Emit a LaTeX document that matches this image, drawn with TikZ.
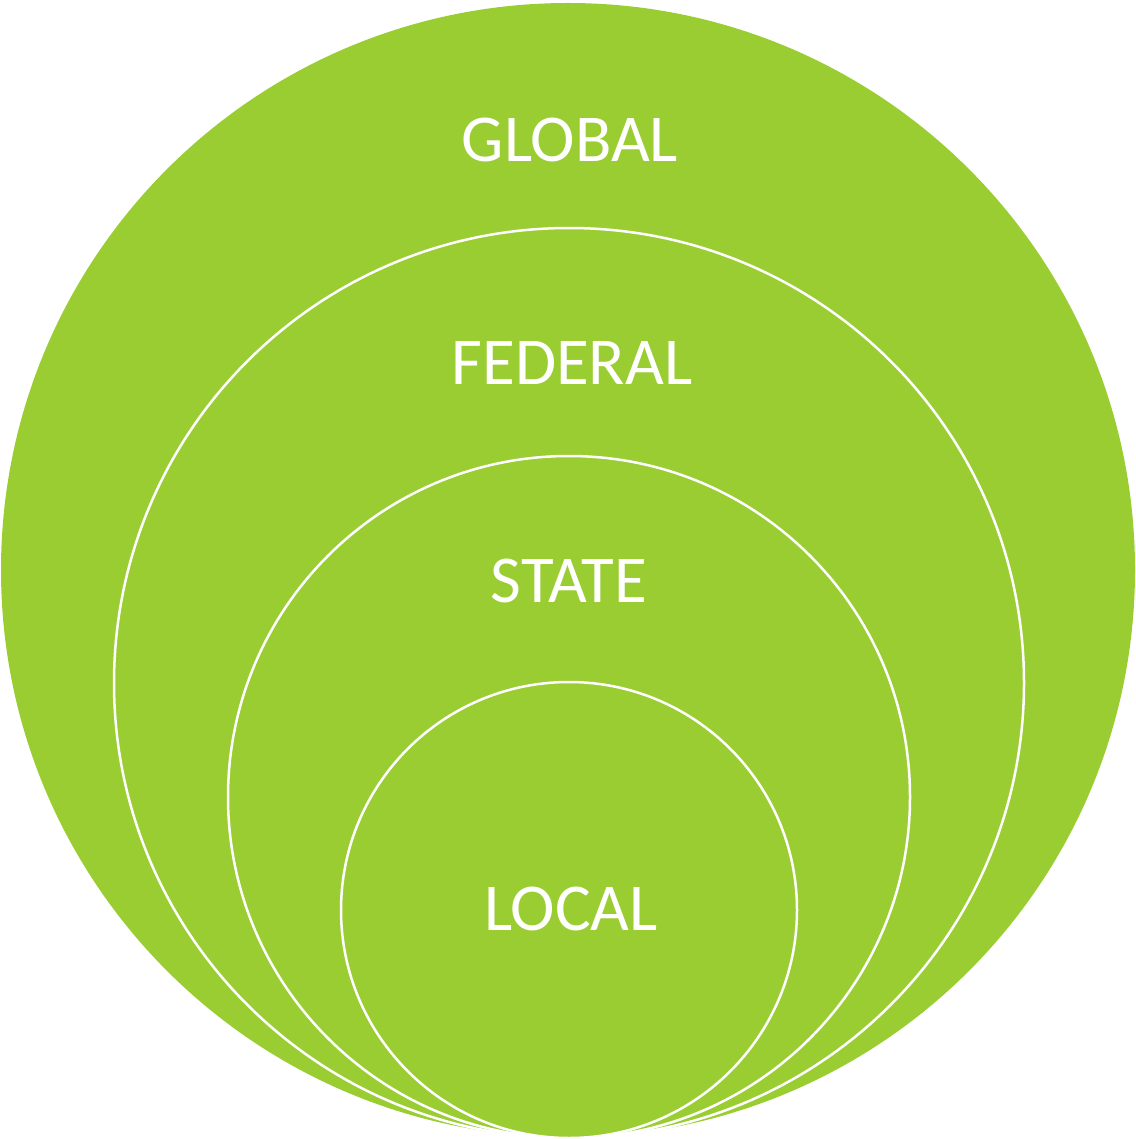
\documentclass[tikz,border=0pt]{standalone}
\usepackage{fontspec}
\setmainfont{Carlito}
\definecolor{leaf}{RGB}{154,205,50}
\begin{document}
\begin{tikzpicture}[x=1pt,y=-1pt,
  ring/.style={circle,fill=leaf,draw=white,line width=2.5pt,inner sep=0pt},
  lbl/.style={text=white,font=\fontsize{67}{80}\selectfont,inner sep=0pt,anchor=base}]
\useasboundingbox (0,0) rectangle (1135,1139);
\node[ring,draw=none,minimum size=1134pt] (global) at (568,570) {};
\node[ring,minimum size=910pt] (federal) at (569,683) {};
\node[ring,minimum size=682pt] (state) at (569,797) {};
\node[ring,minimum size=456pt] (local) at (569,910) {};
\node[lbl] (tglobal) at (570,162) {GLOBAL};
\node[lbl] (tfederal) at (572,384) {FEDERAL};
\node[lbl] (tstate) at (569,602) {STATE};
\node[lbl] (tlocal) at (571,930) {LOCAL};
\end{tikzpicture}
\end{document}
